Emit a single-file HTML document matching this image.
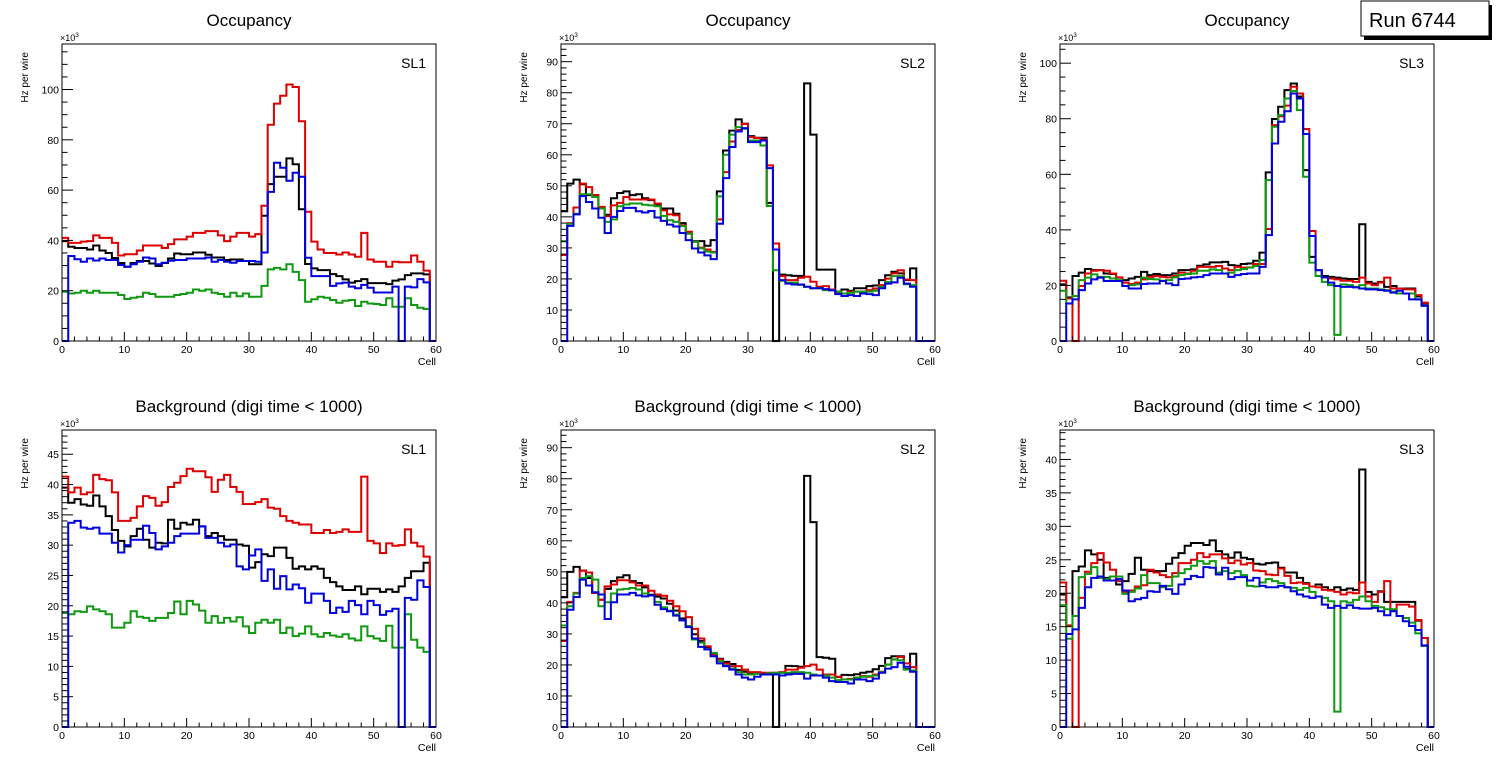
<!DOCTYPE html>
<html><head><meta charset="utf-8"><style>
html,body{margin:0;padding:0;background:#fff;}
svg{display:block;font-family:"Liberation Sans",Arial,sans-serif;}
</style></head><body>
<svg id="chart" width="1496" height="772" viewBox="0 0 1496 772" xmlns="http://www.w3.org/2000/svg">
<g>
<rect x="1364" y="5" width="128" height="35" fill="#000"/>
<rect x="1361" y="1" width="128" height="35" fill="#fff" stroke="#000" stroke-width="1"/>
<text x="1369" y="27" font-size="20">Run 6744</text>
</g>
</svg>
<script>
const binCount = 60;
const seriesColors = ["#000000","#dd0000","#119911","#0000dd"];
const seriesNames = ["black","red","green","blue"];

// Occupancy SL1
const occSL1Black = [39.7,37.5,37,37,36.4,38,36,35,33,31,29.5,31,31.8,31.8,30.8,29.8,31,32.8,34.8,34.5,34.5,35.2,35.2,34.3,33.2,33.2,32.2,32.4,32.4,31.8,30.5,30.5,49.8,62.4,65.3,65.3,72.6,70.3,52.4,30.6,28.9,28.2,28.2,26.6,25.8,24.5,23.2,23.8,24.6,23,23,23,22.6,24,24.5,26.2,26.9,26.9,26.5,0];
const occSL1Red = [41,39,39,39.5,39.7,42,41,41,39,34,34.5,34.5,36,38,38,38,37,38.5,40.4,40.4,41.5,43,43,43.7,43.7,42,39.7,41.5,43,43,41.5,42.5,53.8,86,94.4,97.5,102,101,87.4,51.4,39.5,36.4,35,35,34.4,35.2,34.4,33.5,43,32.4,31.5,31.5,29.5,31.5,31.3,31.3,34,31.5,28,0];
const occSL1Green = [19.6,18.9,19.2,20,19.2,20,19.2,19.2,19.2,18.3,16.7,17.2,17.6,19.2,18.7,17.6,17.6,17.6,18.3,18.7,19.2,20.5,20,20.5,19.2,18.7,17.6,19.2,17.8,18.9,17.6,17.6,21.9,28.5,29.1,28.5,30.5,27.5,24.2,15.6,16.6,17.6,17.2,16.3,15.2,16,16.3,13.9,15.6,14.9,14.7,14.3,17,13.6,13.6,17,14.3,13.2,12.7,0];
const occSL1Blue = [0,33.8,32.5,31.5,32.8,32,32.8,32.2,32.2,30.2,29.5,30.5,31.5,33.2,32.8,30.5,31.1,31.9,32.2,32.2,32.8,32.8,32.8,33.2,31.5,32.2,31.5,31.1,31.8,31.8,31.8,31.5,35.2,59.3,70.9,68.9,63.7,66.9,65.3,33.1,25.8,25.8,25.8,21.9,22.9,23.2,21.6,21,22.3,21.2,19.3,19.3,19.3,21.6,0,21.6,21.3,24.6,23.3,0];

// Occupancy SL2
const occSL2Black = [41.8,50.7,52,50.5,47,47,43,40.7,46,47.7,48.2,47,47.3,46,45.4,44,42.7,42.7,41,38,34.6,32.2,32.2,30.7,32.5,48.2,61.4,67.8,71.4,70,66,65.5,65.5,44.5,0,21.4,21.2,21,21,83,66.5,23,23,23,15.9,16.6,16.2,17,17,17.7,17.9,19.6,21.2,22.3,21.8,19.6,23.4,0,0,0];
const occSL2Red = [27.7,38,43,50.7,49.6,47,43.2,40.2,43.7,44.5,46.4,45.6,45.6,45.6,45.6,44.3,42.1,40.8,40.5,37.3,35.2,32,30.1,29.5,28.7,39.2,54.4,64.3,68,70,65.7,65.4,65,56.6,31.4,20.9,19.6,19.6,20.4,20.7,19.1,17.5,17.7,16.6,15.6,15.3,15.9,15.9,15.9,16.4,16.9,18,20.1,21.8,22.8,19.8,19.6,0,0,0];
const occSL2Green = [32.2,37.8,41,47.3,47.3,46.4,42.7,38.4,39.2,43.4,44,44.3,44.3,43.9,43.7,43.4,40.3,38.9,38.4,37,34.6,32,29.9,28.8,28.5,46.6,60,66.5,68.9,68.4,64.6,64.6,63,43.5,22.8,19.4,18.8,18.8,18.1,17.5,17,17,16.4,16.4,15.9,15.3,15.5,15.9,15.9,15.9,16.2,17.5,19,20.9,20.9,18.3,18,0,0,0];
const occSL2Blue = [0,37.1,40.8,46.7,44.8,42.7,39.7,34.8,40,41.9,42.9,42.9,41.8,41.4,41.9,39.8,38.7,37.5,36.9,34.8,32.5,29.8,28.5,27.6,26.4,37.8,52.5,62.5,67.5,68.6,64.1,64.1,64.6,55.7,29.5,19.6,18.5,18.2,18.2,17.5,17,17,16.7,16.3,15.1,14.5,14.8,14.5,15.3,15.1,14.8,17,18.5,18.9,20.4,18.5,17.5,0,0,0];

// Occupancy SL3
const occSL3Black = [20.4,15.7,23.4,24.6,25.9,25.5,25.5,24.3,24.1,22.8,21.9,22.5,23.1,24.9,23.7,24.1,23.7,23.7,24.3,25.5,25.5,25.8,27.1,27.6,28.3,28.3,28.5,27.3,27.1,27.7,27.9,28.9,31.8,60.7,79.9,84.3,90.3,92.7,88,61.5,30.3,25.5,23.4,23.1,22.8,22.5,22.3,22.3,42,21.3,20.7,21.3,19.5,19.8,18.9,18.9,18.9,16,13.5,0];
const occSL3Red = [21.7,15.3,0,19.8,24.3,25.3,25.5,25.3,24.3,22.9,21,20.5,21,22.2,23.1,23.4,23.1,22.9,23.4,24.6,24.3,25.3,26.7,26.7,26.7,27,26.1,25.5,26.7,26.4,26.5,27.7,27.7,40.3,77.7,80.9,84.7,91.5,89.1,76.3,39.6,25.5,22.9,22.5,22.2,21.7,21.7,21.3,22.8,20.7,20.1,21,22.8,18.9,18.9,18.6,18.6,16.5,13.8,0];
const occSL3Green = [18.1,13.5,16.2,21.9,22.8,24,23.1,23.1,22.5,21.9,19.8,20.1,20.4,22.8,22.3,22.2,21.7,21.9,22.9,23.7,24.1,24.3,25.3,25.3,25.8,25.5,24.3,24.6,25.5,25.9,26.4,27,29.1,57.9,77.1,81.3,87.3,90,83.1,59.1,28.2,23.4,21.3,20.1,2.2,20.4,20.1,19.5,20.1,18.9,18.9,18.6,18.3,17.7,17.1,17.1,17.1,15,12.7,0];
const occSL3Blue = [0,13.5,15,18.3,20.7,22.2,22.8,21.6,21.6,21.6,19.8,18.9,18.9,20.5,20.7,20.7,21.6,20.7,20.1,22.3,22.5,22.9,23.1,23.7,24.3,24.3,24.3,23.1,23.7,24.1,24.3,24.3,26.7,38.1,71.1,78.9,82.7,89.1,87.3,74.5,37.8,25.5,22.9,21,19.8,19.5,19.5,19.3,18.9,18.6,18.6,18.3,18.1,17.4,18.1,17.1,15,15,12.7,0];

// Background SL1
const bkgSL1Black = [39.5,37,37.6,36.7,36.5,38.2,36.4,34.8,32.5,30.7,29.8,31.5,32.7,30.9,29.6,30.4,30.3,34.2,32.7,33.7,33.4,34.2,33.1,31.5,32,31.5,30.9,30.9,30.1,29.9,26.3,27.2,28.5,28.2,29.6,29.6,27.9,26.1,26.5,26,26.5,26.1,24.6,23.9,23.2,22.6,22.6,23.2,21.9,22.8,22.8,22.3,22.7,22.3,23.2,24.6,25.7,25.7,27.1,0];
const bkgSL1Red = [41.3,38.7,39.5,38.4,38.7,41.6,40.9,40.7,38.7,34,34,34.5,36.4,38.1,37.8,36.5,37.1,39.6,40.3,41.4,42.6,42.2,42.2,41.2,38.8,40.8,41.6,39.6,38.8,36.8,36.8,37.1,37.6,36.2,36,34.8,34,33.7,33.4,33.4,32,32,32.5,32,32.2,32.6,32.2,32.2,41.3,30.7,30.3,28.7,30.3,29.9,30,32.6,30.4,29.8,28.1,0];
const bkgSL1Green = [18.8,18.6,19.1,19,19.9,19.4,19.1,18.6,16.4,16.4,17.2,19.1,18.2,18,17.5,18,18,18.8,20.7,18.6,20.8,20.2,19.2,17.2,18.3,17.2,18,17.4,18.1,16.6,15.5,17.2,17.7,17.2,17.7,15.5,16.4,15,15.4,16.6,15.3,14.9,15.5,15.1,14.9,15.3,14.6,14.3,16.6,15,14.6,14.2,16.7,13.1,13.1,18.6,14.4,13.1,12.4,0];
const bkgSL1Blue = [0,33.7,34,32.9,32.7,32.9,31.9,31.9,30.4,28.8,30,30.9,30.9,33.2,32,29.3,29.8,30.4,31.5,31.9,31.9,31.9,33.1,31.2,31.2,30.4,29.8,30.1,26.5,26,28.3,29.3,24.1,26,22.8,24.9,22.7,23.5,22.9,20.5,22,22,20.8,18.8,19.7,19,20.8,20.1,18.6,20.8,20.1,18.5,19.1,19.5,0,21.3,21,24.2,23.1,0];

// Background SL2
const bkgSL2Black = [41.8,50,51.6,50.4,48,43.2,41,44.5,47,48.2,48.9,47,46.4,45,42.6,42,41.4,39.7,37.5,35,32.5,29.9,27.7,25.7,23.5,22,21,20.3,18.4,17.8,17.5,17.5,17.4,17.4,0,17.5,19.7,19.6,19.4,80.9,66,22.5,22.3,22,16.1,16.8,16.7,17,17.5,17.8,18.6,19.7,22.2,22.8,22.8,18.7,23.6,0,0,0];
const bkgSL2Red = [27.7,40.3,43.2,50.4,49.8,43.2,41,45.3,45.9,47.3,47.3,46.6,45.6,45.6,43.9,42.7,42.3,40.7,38.9,37.3,35.4,31.6,28.5,26,23.2,21.8,20.5,19.6,19.6,18.5,17.7,17.7,17.5,17.5,17.5,17.7,18.5,18.5,19.1,19.6,20.1,18.5,16.9,16.9,16.2,15.3,15.5,15.9,16.4,16.2,16.9,17.8,20.1,21.8,22.6,20.5,19.3,0,0,0];
const bkgSL2Green = [32.7,38.9,43,48,48.6,47.5,38.9,40.2,43,44.3,44.5,44.8,44.3,43,42.4,40.3,38.6,37.5,36.2,34.3,32.5,28.2,27.2,25,23.9,21.2,19.8,18.8,17.7,16.9,16.9,17.1,16.9,17.3,17.5,17.5,17.5,17.7,17.7,17.5,16.9,16.6,16.6,15.9,15.1,15.3,15.3,15.9,16.2,16.4,16.6,17.7,20.1,21.8,21.5,18.5,18.2,0,0,0];
const bkgSL2Blue = [0,37.8,41.9,47.5,45.6,43.4,42.7,34.8,40.2,42.7,42.7,43.2,42.4,42.1,42.4,39.4,38,37.3,35.9,34.4,32.2,28.5,25.8,25,22.8,20.5,19.6,18.5,16.9,15.9,15.3,16.2,16.9,16.9,16.9,16.6,16.9,17.1,17.1,15.6,16.6,16.6,15.9,14.8,14.5,14.5,14,15.3,15.3,14.8,15.6,17.5,18.8,19.3,20.7,19.4,17.8,0,0,0];

// Background SL3
const bkgSL3Black = [19.8,15.1,23.3,24,26.4,25.8,25,22.3,22.5,21.3,21.8,22.9,25.3,23.5,23.3,23.3,23.3,24.4,25.3,26,27.1,27.5,27.5,27.2,27.9,26.3,25.8,25.3,26.1,25.3,25.1,24.4,24.3,24.5,24.6,23.8,23.1,23.1,22.3,21.5,21,21.3,20.9,20.5,20.9,20.5,20.7,20.5,38.5,20.2,19.8,20.3,18.7,18.7,18.7,18.7,18.7,15.9,13.3,0];
const bkgSL3Red = [21.6,15.2,0,19.3,23.2,24.5,26,24.6,23.5,21.8,20.2,20.4,21,21.2,23.5,23.1,22.7,22.4,23,24.5,24.5,25,26,25.4,25.8,25.8,25.2,24.5,24.9,24.3,24.5,23.4,23.3,22.8,22.7,23.7,22.6,21.5,21.6,21.4,21,20.9,20.5,20.4,20.2,19.8,20.1,20,21.6,19.5,18.7,20.2,21.8,17.4,18.3,18.3,18,16,13.3,0];
const bkgSL3Green = [18.2,13.2,16.6,22.4,22.9,23.9,22.3,22.1,22.5,22.5,19.9,20.2,20.7,22.7,21.5,21.5,20.9,21.1,22.5,23,23.6,24.1,24.8,24.4,24.8,23.1,23.3,23,23.3,22.7,21.1,21,21.6,22.1,21.8,21.5,20.9,20.8,20.5,20.8,20.2,19.5,19.3,18.8,2.3,18.8,18.6,19,19.5,18.8,18.1,17.9,17.6,17.6,16.6,16.3,15.6,14,12.1,0];
const bkgSL3Blue = [0,13.9,14.6,17.8,20.9,22.3,22.5,21.9,21.9,22.1,20.4,18.8,19.1,19.3,20.3,20.2,21.1,20.6,19.9,21.3,22.1,22.6,22.4,23.9,23.8,22.8,23.8,22.1,22.4,22.4,21.9,22.3,21.1,20.9,20.9,21.1,20.9,20.3,19.8,19.5,19.3,19.5,18.3,17.8,18.1,17.8,18.2,17.8,17.7,17.7,17.8,17.3,16.7,17.3,16.6,15.8,15.1,14.5,12.2,0];

const xTickLabels = ["0","10","20","30","40","50","60"];

const panels = [
 {name:"occupancy-sl1", title:"Occupancy", sl:"SL1", x0:62, y0:44, ymax:118.1, major:20, minor:5, series:[occSL1Black,occSL1Red,occSL1Green,occSL1Blue]},
 {name:"occupancy-sl2", title:"Occupancy", sl:"SL2", x0:561, y0:44, ymax:95.7, major:10, minor:2, series:[occSL2Black,occSL2Red,occSL2Green,occSL2Blue]},
 {name:"occupancy-sl3", title:"Occupancy", sl:"SL3", x0:1060, y0:44, ymax:106.9, major:20, minor:5, series:[occSL3Black,occSL3Red,occSL3Green,occSL3Blue]},
 {name:"background-sl1", title:"Background (digi time < 1000)", sl:"SL1", x0:62, y0:430, ymax:49, major:5, minor:1, series:[bkgSL1Black,bkgSL1Red,bkgSL1Green,bkgSL1Blue]},
 {name:"background-sl2", title:"Background (digi time < 1000)", sl:"SL2", x0:561, y0:430, ymax:95.7, major:10, minor:2, series:[bkgSL2Black,bkgSL2Red,bkgSL2Green,bkgSL2Blue]},
 {name:"background-sl3", title:"Background (digi time < 1000)", sl:"SL3", x0:1060, y0:430, ymax:44.4, major:5, minor:1, series:[bkgSL3Black,bkgSL3Red,bkgSL3Green,bkgSL3Blue]}
];

const NS = "http://www.w3.org/2000/svg";
const svg = document.getElementById("chart");
const W = 374, H = 297;
function mk(tag, attrs, parent){
  const e = document.createElementNS(NS, tag);
  for (const k in attrs) e.setAttribute(k, attrs[k]);
  parent.appendChild(e);
  return e;
}
panels.forEach(p => {
  const g = mk("g", {}, svg);
  
  
  const xs = v => p.x0 + v / binCount * W;
  const ys = v => p.y0 + H - v / p.ymax * H;
  const cx = p.x0 + W/2;
  const t = mk("text", {x:cx, y:p.y0-18, "font-size":17, "text-anchor":"middle"}, g);
  t.textContent = p.title;
  
  
  p.series.forEach((vals, si) => {
    let d = "M" + xs(0) + "," + ys(vals[0]);
    for (let i = 0; i < vals.length; i++) {
      d += " H" + xs(i+1).toFixed(2);
      if (i + 1 < vals.length) d += " V" + ys(vals[i+1]).toFixed(2);
    }
    const path = mk("path", {d:d, fill:"none", stroke:seriesColors[si], "stroke-width":2}, g);
    
    
  });
  const fr = mk("rect", {x:p.x0, y:p.y0, width:W, height:H, fill:"none", stroke:"#000", "stroke-width":1}, g);
  
  
  const xt = mk("g", {stroke:"#000", "stroke-width":1}, g);
  
  
  for (let v = 0; v <= 60; v += 2) {
    const len = v % 10 === 0 ? 9 : 4.5;
    mk("line", {x1:xs(v), x2:xs(v), y1:p.y0+H, y2:p.y0+H-len}, xt);
  }
  xTickLabels.forEach((lab, i) => {
    const tx = mk("text", {x:xs(i*10), y:p.y0+H+12, "font-size":10.5, "text-anchor":"middle"}, g);
    tx.textContent = lab;
    
    
  });
  const xl = mk("text", {x:p.x0+W, y:p.y0+H+24, "font-size":10.5, "text-anchor":"end"}, g);
  xl.textContent = "Cell";
  
  
  const yt = mk("g", {stroke:"#000", "stroke-width":1}, g);
  
  
  const nMinor = Math.floor(p.ymax / p.minor + 1e-6);
  for (let k = 0; k <= nMinor; k++) {
    const v = k * p.minor;
    const isMajor = Math.abs(v / p.major - Math.round(v / p.major)) < 1e-6;
    mk("line", {x1:p.x0, x2:p.x0 + (isMajor ? 11 : 5.5), y1:ys(v), y2:ys(v)}, yt);
    if (isMajor) {
      const ty = mk("text", {x:p.x0-3, y:ys(v)+4, "font-size":10.5, "text-anchor":"end"}, g);
      ty.textContent = String(Math.round(v));
      
      
    }
  }
  const ex = mk("text", {x:p.x0-2, y:p.y0-3, "font-size":9}, g);
  ex.innerHTML = '×10<tspan dy="-4" font-size="6.5">3</tspan>';
  
  
  const yl = mk("text", {x:0, y:0, "font-size":10, "text-anchor":"end", transform:"translate(" + (p.x0-34) + "," + (p.y0+8) + ") rotate(-90)"}, g);
  yl.textContent = "Hz per wire";
  
  
  const sl = mk("text", {x:p.x0+W-10, y:p.y0+24, "font-size":14, "text-anchor":"end"}, g);
  sl.textContent = p.sl;
  
  
});
</script>
</body></html>
